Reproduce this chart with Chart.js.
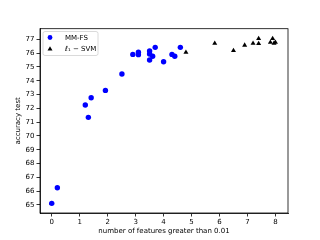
<!DOCTYPE html>
<html>
<head>
<meta charset="utf-8">
<script src="https://cdn.jsdelivr.net/npm/chart.js@4"></script>
<style>
html,body{margin:0;padding:0;background:#fff;}
#wrap{width:320px;height:240px;}
</style>
</head>
<body>
<div id="wrap"><canvas id="c" width="320" height="240"></canvas></div>
<script>
const mmfsX = [0, 0.2, 1.2, 1.31, 1.41, 1.92, 2.51, 2.9, 3.1, 3.1, 3.5, 3.5, 3.5, 3.61, 3.7, 4.0, 4.3, 4.4, 4.6];
const mmfsY = [65.12, 66.25, 72.24, 71.35, 72.77, 73.30, 74.49, 75.91, 76.06, 75.89, 76.15, 75.94, 75.50, 75.77, 76.42, 75.38, 75.91, 75.77, 76.42];
const svmX = [0, 4.8, 5.83, 6.5, 6.9, 7.2, 7.4, 7.4, 7.9, 7.82, 7.95, 8.0];
const svmY = [65.1, 76.06, 76.71, 76.18, 76.57, 76.71, 77.05, 76.69, 77.05, 76.78, 76.72, 76.78];
const xTicks = [0,1,2,3,4,5,6,7,8];
const yTicks = [65,66,67,68,69,70,71,72,73,74,75,76,77];
const seriesLabels = ['MM-FS', 'ℓ₁ − SVM'];

const FONT = 'DejaVu Sans';
Chart.defaults.font.family = FONT;
Chart.defaults.font.size = 7;
Chart.defaults.color = '#000';

const pts = (xs, ys) => xs.map((x, i) => ({x: x, y: ys[i]}));

const framePlugin = {
  id: 'frame',
  afterDraw(chart) {
    const {ctx, chartArea: a} = chart;
    ctx.save();
    ctx.strokeStyle = '#000';
    ctx.lineWidth = 0.8;
    ctx.strokeRect(a.left, a.top, a.right - a.left, a.bottom - a.top);
    // legend
    const lx = 43, ly = 31.5, lw = 55, lh = 24;
    ctx.fillStyle = 'rgba(255,255,255,0.8)';
    ctx.strokeStyle = '#d0d0d0';
    ctx.lineWidth = 0.8;
    ctx.beginPath();
    if (ctx.roundRect) ctx.roundRect(lx, ly, lw, lh, 2); else ctx.rect(lx, ly, lw, lh);
    ctx.fill(); ctx.stroke();
    ctx.font = '7px ' + FONT;
    ctx.textBaseline = 'middle';
    // marker 1
    ctx.fillStyle = '#0000ff';
    ctx.beginPath(); ctx.arc(50, 37.5, 2.4, 0, Math.PI * 2); ctx.fill();
    ctx.fillStyle = '#000';
    ctx.fillText(chart.data.datasets[0].label, 65, 37.8);
    // marker 2
    ctx.beginPath();
    ctx.moveTo(50, 46.3); ctx.lineTo(52.5, 50.6); ctx.lineTo(47.5, 50.6); ctx.closePath(); ctx.fill();
    ctx.fillText(chart.data.datasets[1].label, 65, 48.8);
    ctx.restore();
  }
};

new Chart(document.getElementById('c'), {
  type: 'scatter',
  data: {
    datasets: [
      { label: seriesLabels[0], data: pts(mmfsX, mmfsY), backgroundColor: '#0000ff', borderColor: '#0000ff', pointRadius: 2.7, pointStyle: 'circle', borderWidth: 0 },
      { label: seriesLabels[1], data: pts(svmX, svmY), backgroundColor: '#000', borderColor: '#000', pointRadius: 2.9, pointStyle: 'triangle', borderWidth: 0 }
    ]
  },
  options: {
    responsive: false,
    animation: false,
    devicePixelRatio: 1,
    layout: { padding: { top: 28.7, right: 32, left: 0, bottom: 0 } },
    plugins: { legend: { display: false }, tooltip: { enabled: false } },
    scales: {
      x: {
        type: 'linear', min: -0.42, max: 8.45,
        afterFit(s) { s.height = 27; },
        afterBuildTicks(s) { s.ticks = xTicks.map(v => ({value: v})); },
        grid: { drawOnChartArea: false, drawTicks: true, tickLength: 3.5, color: '#000', tickWidth: 0.8 },
        border: { display: true, color: '#000', width: 0.8 },
        ticks: { padding: 1.5, maxRotation: 0, autoSkip: false, font: { size: 7 }, color: '#000' },
        title: { display: true, text: 'number of features greater than 0.01', font: { size: 7 }, padding: { top: 0, bottom: 5 }, color: '#000' }
      },
      y: {
        type: 'linear', min: 64.42, max: 77.77,
        afterFit(s) { s.width = 40; },
        afterBuildTicks(s) { s.ticks = yTicks.map(v => ({value: v})); },
        grid: { drawOnChartArea: false, drawTicks: true, tickLength: 3.5, color: '#000', tickWidth: 0.8 },
        border: { display: true, color: '#000', width: 0.8 },
        ticks: { padding: 2, autoSkip: false, font: { size: 7 }, color: '#000' },
        title: { display: true, text: 'accuracy test', font: { size: 7 }, padding: { top: 14, bottom: 0 }, color: '#000' }
      }
    }
  },
  plugins: [framePlugin]
});
</script>
</body>
</html>
